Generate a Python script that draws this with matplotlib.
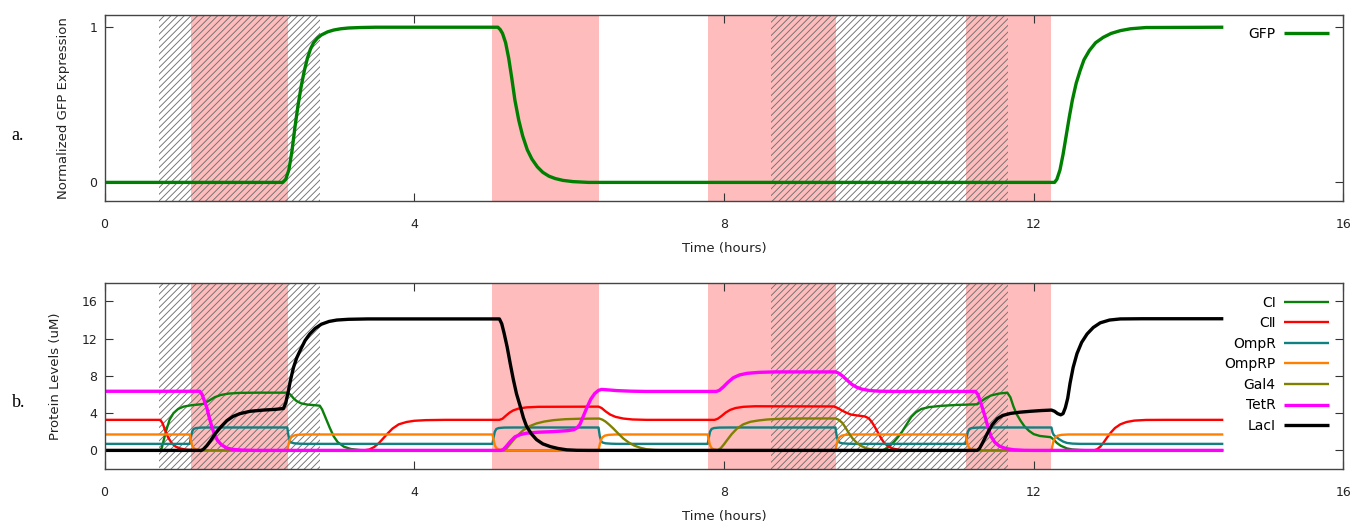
import matplotlib
matplotlib.use("Agg")
import matplotlib.pyplot as plt

plt.rcParams['font.family'] = ['DejaVu Sans']
plt.rcParams['hatch.linewidth'] = 0.65

# induction windows (hours)
pink_spans = [(1.12, 2.37), (5.0, 6.39), (7.79, 9.45), (11.12, 12.23)]
hatch_spans = [(0.70, 2.78), (8.61, 11.67)]

# (time in hours, value)
gfp = [(0, 0), (2.30, 0), (2.34, 0.02), (2.38, 0.08), (2.42, 0.2), (2.46, 0.36), (2.50, 0.5),
       (2.54, 0.62), (2.58, 0.72), (2.62, 0.8), (2.66, 0.86), (2.70, 0.9), (2.75, 0.93),
       (2.80, 0.95), (2.88, 0.97), (2.96, 0.982), (3.05, 0.99), (3.15, 0.995), (3.30, 0.998),
       (3.50, 1), (5.08, 1), (5.11, 0.985), (5.14, 0.96), (5.18, 0.9), (5.22, 0.8), (5.26, 0.67),
       (5.30, 0.53), (5.35, 0.4), (5.40, 0.3), (5.46, 0.21), (5.52, 0.15), (5.59, 0.1),
       (5.66, 0.065), (5.74, 0.04), (5.82, 0.025), (5.92, 0.013), (6.05, 0.005), (6.25, 0),
       (12.27, 0), (12.30, 0.02), (12.34, 0.08), (12.38, 0.18), (12.42, 0.3), (12.46, 0.42),
       (12.50, 0.53), (12.55, 0.64), (12.60, 0.72), (12.65, 0.79), (12.72, 0.85), (12.80, 0.9),
       (12.90, 0.935), (13.00, 0.96), (13.12, 0.978), (13.25, 0.99), (13.45, 0.998), (14.45, 1)]

ci = [(0, 0), (0.72, 0), (0.74, 0.3), (0.77, 1.3), (0.80, 2.25), (0.84, 3.3), (0.89, 4.0),
      (0.95, 4.45), (1.02, 4.7), (1.12, 4.85), (1.24, 4.95), (1.28, 5.0), (1.32, 5.2),
      (1.37, 5.45), (1.42, 5.7), (1.5, 5.95), (1.6, 6.1), (1.75, 6.18), (2.0, 6.2), (2.36, 6.2),
      (2.40, 6.0), (2.44, 5.6), (2.48, 5.3), (2.54, 5.05), (2.62, 4.92), (2.72, 4.85),
      (2.78, 4.8), (2.81, 4.4), (2.84, 3.8), (2.87, 3.2), (2.91, 2.4), (2.96, 1.5), (3.01, 0.9),
      (3.09, 0.4), (3.18, 0.15), (3.3, 0.03), (3.45, 0), (10.05, 0), (10.1, 0.2), (10.15, 0.55),
      (10.2, 0.95), (10.25, 1.45), (10.3, 2.0), (10.36, 2.8), (10.42, 3.6), (10.48, 4.1),
      (10.55, 4.45), (10.65, 4.65), (10.8, 4.78), (11.0, 4.88), (11.27, 4.95), (11.32, 5.25),
      (11.38, 5.6), (11.45, 5.9), (11.55, 6.1), (11.66, 6.2), (11.70, 5.7), (11.74, 4.7),
      (11.78, 3.9), (11.83, 3.2), (11.88, 2.6), (11.94, 2.1), (12.0, 1.75), (12.08, 1.55),
      (12.22, 1.42), (12.26, 1.15), (12.3, 0.8), (12.35, 0.5), (12.43, 0.21), (12.5, 0.1),
      (12.6, 0.04), (12.75, 0), (14.45, 0)]

cii = [(0, 3.28), (0.72, 3.28), (0.75, 2.9), (0.78, 2.2), (0.82, 1.4), (0.87, 0.75), (0.92, 0.4),
       (0.98, 0.2), (1.05, 0.08), (1.15, 0.02), (1.3, 0), (3.35, 0), (3.42, 0.1), (3.48, 0.35),
       (3.54, 0.75), (3.6, 1.3), (3.66, 1.85), (3.72, 2.35), (3.8, 2.8), (3.9, 3.05), (4.0, 3.18),
       (4.15, 3.25), (4.4, 3.28), (5.10, 3.28), (5.14, 3.4), (5.18, 3.7), (5.23, 4.05),
       (5.28, 4.3), (5.35, 4.5), (5.45, 4.62), (5.6, 4.68), (6.38, 4.7), (6.42, 4.55),
       (6.47, 4.2), (6.53, 3.85), (6.6, 3.6), (6.7, 3.42), (6.82, 3.32), (7.0, 3.28),
       (7.88, 3.28), (7.92, 3.4), (7.97, 3.7), (8.02, 4.05), (8.08, 4.35), (8.15, 4.55),
       (8.25, 4.68), (8.4, 4.74), (9.42, 4.72), (9.47, 4.55), (9.52, 4.3), (9.58, 4.05),
       (9.64, 3.85), (9.72, 3.75), (9.82, 3.65), (9.87, 3.45), (9.91, 3.05), (9.95, 2.5),
       (9.99, 1.9), (10.03, 1.3), (10.07, 0.8), (10.12, 0.45), (10.18, 0.2), (10.26, 0.06),
       (10.4, 0), (12.78, 0), (12.82, 0.12), (12.86, 0.4), (12.9, 0.8), (12.95, 1.4),
       (13.0, 1.95), (13.05, 2.4), (13.12, 2.8), (13.2, 3.05), (13.3, 3.2), (13.45, 3.27),
       (13.7, 3.28), (14.45, 3.28)]

ompr = [(0, 0.7), (1.10, 0.7), (1.115, 1.4), (1.13, 2.0), (1.15, 2.3), (1.18, 2.4), (1.25, 2.45),
        (1.4, 2.46), (2.36, 2.46), (2.375, 1.6), (2.39, 1.05), (2.41, 0.85), (2.45, 0.76),
        (2.52, 0.72), (2.6, 0.7), (5.01, 0.7), (5.025, 1.4), (5.04, 2.0), (5.06, 2.3),
        (5.09, 2.4), (5.16, 2.45), (5.3, 2.46), (6.38, 2.46), (6.395, 1.6), (6.41, 1.05),
        (6.43, 0.85), (6.47, 0.76), (6.54, 0.72), (6.62, 0.7), (7.79, 0.7), (7.805, 1.4),
        (7.82, 2.0), (7.84, 2.3), (7.87, 2.4), (7.94, 2.45), (8.08, 2.46), (9.44, 2.46),
        (9.455, 1.6), (9.47, 1.05), (9.49, 0.85), (9.53, 0.76), (9.6, 0.72), (9.68, 0.7),
        (11.12, 0.7), (11.135, 1.4), (11.15, 2.0), (11.17, 2.3), (11.2, 2.4), (11.27, 2.45),
        (11.41, 2.46), (12.23, 2.46), (12.245, 1.9), (12.26, 1.65), (12.29, 1.45), (12.33, 1.2),
        (12.38, 0.95), (12.43, 0.8), (12.5, 0.73), (12.6, 0.7), (14.45, 0.7)]

omprp = [(0, 1.71), (1.10, 1.71), (1.115, 1.1), (1.13, 0.55), (1.15, 0.25), (1.18, 0.1),
         (1.24, 0.03), (1.35, 0), (2.36, 0), (2.375, 0.6), (2.39, 1.1), (2.41, 1.4), (2.44, 1.58),
         (2.49, 1.67), (2.58, 1.71), (5.01, 1.71), (5.025, 1.1), (5.04, 0.55), (5.06, 0.25),
         (5.09, 0.1), (5.15, 0.03), (5.26, 0), (6.38, 0), (6.395, 0.6), (6.41, 1.1), (6.43, 1.4),
         (6.46, 1.58), (6.51, 1.67), (6.6, 1.71), (7.79, 1.71), (7.805, 1.1), (7.82, 0.55),
         (7.84, 0.25), (7.87, 0.1), (7.93, 0.03), (8.04, 0), (9.44, 0), (9.455, 0.6),
         (9.47, 1.1), (9.49, 1.4), (9.52, 1.58), (9.57, 1.67), (9.66, 1.71), (11.12, 1.71),
         (11.135, 1.1), (11.15, 0.55), (11.17, 0.25), (11.2, 0.1), (11.26, 0.03), (11.37, 0),
         (12.23, 0), (12.245, 0.6), (12.26, 1.1), (12.28, 1.4), (12.31, 1.58), (12.36, 1.67),
         (12.45, 1.71), (14.45, 1.71)]

gal4 = [(0, 0), (5.15, 0), (5.19, 0.2), (5.23, 0.6), (5.28, 1.1), (5.34, 1.65), (5.41, 2.18),
        (5.49, 2.6), (5.58, 2.9), (5.68, 3.1), (5.8, 3.25), (5.95, 3.35), (6.14, 3.4),
        (6.39, 3.42), (6.43, 3.3), (6.47, 3.1), (6.52, 2.75), (6.57, 2.36), (6.63, 1.85),
        (6.7, 1.28), (6.77, 0.85), (6.84, 0.52), (6.92, 0.28), (7.0, 0.12), (7.1, 0.04),
        (7.25, 0), (7.92, 0), (7.96, 0.25), (8.0, 0.65), (8.04, 1.1), (8.1, 1.75), (8.17, 2.36),
        (8.25, 2.8), (8.34, 3.07), (8.45, 3.22), (8.56, 3.32), (8.75, 3.4), (9.0, 3.43),
        (9.44, 3.43), (9.48, 3.3), (9.53, 2.95), (9.57, 2.45), (9.61, 1.9), (9.66, 1.3),
        (9.72, 0.78), (9.78, 0.45), (9.84, 0.22), (9.92, 0.08), (10.02, 0.02), (10.15, 0),
        (14.45, 0)]

tetr = [(0, 6.35), (1.23, 6.35), (1.26, 6.0), (1.29, 5.3), (1.32, 4.6), (1.35, 3.6),
        (1.385, 2.55), (1.42, 1.7), (1.46, 1.05), (1.51, 0.6), (1.58, 0.25), (1.66, 0.1),
        (1.78, 0.03), (1.95, 0), (5.12, 0), (5.15, 0.1), (5.19, 0.45), (5.24, 0.95), (5.3, 1.45),
        (5.37, 1.7), (5.45, 1.85), (5.6, 1.95), (5.8, 2.02), (5.98, 2.12), (6.06, 2.22),
        (6.1, 2.4), (6.14, 2.8), (6.18, 3.6), (6.23, 4.6), (6.28, 5.5), (6.33, 6.1), (6.38, 6.45),
        (6.42, 6.55), (6.5, 6.5), (6.62, 6.42), (6.8, 6.36), (7.0, 6.33), (7.9, 6.33),
        (7.94, 6.45), (7.99, 6.8), (8.05, 7.3), (8.12, 7.8), (8.2, 8.1), (8.3, 8.28),
        (8.45, 8.38), (8.65, 8.43), (9.44, 8.43), (9.48, 8.3), (9.53, 8.0), (9.59, 7.55),
        (9.65, 7.1), (9.71, 6.8), (9.78, 6.58), (9.88, 6.43), (10.0, 6.36), (10.2, 6.33),
        (11.25, 6.33), (11.28, 6.0), (11.31, 5.3), (11.34, 4.5), (11.37, 3.7), (11.41, 2.5),
        (11.45, 1.5), (11.5, 0.85), (11.56, 0.45), (11.64, 0.2), (11.74, 0.07), (11.88, 0.01),
        (12.0, 0), (14.45, 0)]

laci = [(0, 0), (1.25, 0), (1.28, 0.15), (1.32, 0.5), (1.37, 1.05), (1.43, 1.8), (1.5, 2.5),
        (1.58, 3.2), (1.66, 3.65), (1.75, 3.95), (1.88, 4.2), (2.05, 4.33), (2.2, 4.4),
        (2.31, 4.5), (2.34, 5.1), (2.37, 6.2), (2.40, 7.5), (2.44, 8.9), (2.48, 9.9),
        (2.53, 10.8), (2.59, 11.8), (2.65, 12.5), (2.72, 13.1), (2.8, 13.55), (2.9, 13.85),
        (3.0, 14.0), (3.15, 14.08), (3.4, 14.12), (5.1, 14.12), (5.13, 13.6), (5.16, 12.6),
        (5.2, 11.1), (5.24, 9.3), (5.28, 7.6), (5.32, 6.1), (5.37, 4.7), (5.41, 3.5),
        (5.45, 2.6), (5.51, 1.8), (5.58, 1.15), (5.66, 0.7), (5.76, 0.4), (5.86, 0.2),
        (5.97, 0.06), (6.1, 0.01), (6.25, 0), (11.27, 0), (11.3, 0.2), (11.34, 0.8), (11.4, 1.8),
        (11.46, 2.7), (11.53, 3.4), (11.6, 3.75), (11.7, 3.97), (11.82, 4.1), (11.96, 4.2),
        (12.1, 4.28), (12.23, 4.33), (12.27, 4.2), (12.31, 3.95), (12.35, 3.82), (12.38, 3.95),
        (12.41, 4.6), (12.44, 5.6), (12.47, 7.2), (12.51, 8.9), (12.56, 10.4), (12.62, 11.6),
        (12.69, 12.5), (12.77, 13.2), (12.86, 13.7), (12.98, 14.0), (13.12, 14.12),
        (13.4, 14.14), (14.45, 14.14)]

proteins = [
    ("C\u2160", ci, "#0a800a", 1.7),
    ("C\u2161", cii, "#ff0000", 1.7),
    ("OmpR", ompr, "#108080", 1.7),
    ("OmpRP", omprp, "#ff8000", 1.7),
    ("Gal4", gal4, "#808000", 1.7),
    ("TetR", tetr, "#ff00ff", 2.4),
    ("Lac\u2160", laci, "#000000", 2.4),
]


def shade(ax):
    for a, b in pink_spans:
        ax.axvspan(a, b, facecolor="#ffbcbc", edgecolor="none", lw=0, zorder=0)
    for a, b in hatch_spans:
        ax.axvspan(a, b, facecolor="none", edgecolor="#707070", hatch="/////", lw=0, zorder=0.5)


def style(ax):
    ax.set_xlim(0, 16)
    ax.set_xticks([0, 4, 8, 12, 16])
    ax.tick_params(direction="in", top=True, right=True, length=6, width=0.8,
                   color="#333333", labelcolor="#222222", labelsize=9)
    ax.tick_params(axis="x", pad=12)
    ax.tick_params(axis="y", pad=5)
    for s in ax.spines.values():
        s.set_color("#444444")
        s.set_linewidth(1.0)
    ax.set_xlabel("Time (hours)", fontsize=9.5, color="#222222", labelpad=8)


fig = plt.figure(figsize=(13.58, 5.29), dpi=100)
ax1 = fig.add_axes([0.077, 0.620, 0.9122, 0.352])
ax2 = fig.add_axes([0.077, 0.1134, 0.9122, 0.352])

# a. GFP
shade(ax1)
t, v = zip(*gfp)
ax1.plot(t, v, color="#008000", lw=2.4, label="GFP", solid_capstyle="butt")
ax1.set_ylim(-0.12, 1.08)
ax1.set_yticks([0, 1])
style(ax1)
ax1.set_ylabel("Normalized GFP Expression", fontsize=9.5, color="#222222")
ax1.yaxis.set_label_coords(-0.028, 0.5)
ax1.legend(loc="upper right", frameon=False, markerfirst=False, fontsize=10,
           handlelength=3.2, handletextpad=0.6, borderaxespad=0.4, bbox_to_anchor=(0.997, 0.995))

# b. protein levels
shade(ax2)
for name, pts, col, lw in proteins:
    t, v = zip(*pts)
    ax2.plot(t, v, color=col, lw=lw, label=name, solid_capstyle="butt")
ax2.set_ylim(-2, 18)
ax2.set_yticks([0, 4, 8, 12, 16])
style(ax2)
ax2.set_ylabel("Protein Levels (uM)", fontsize=9.5, color="#222222")
ax2.yaxis.set_label_coords(-0.0345, 0.5)
ax2.legend(loc="upper right", frameon=False, markerfirst=False, fontsize=10,
           handlelength=3.2, handletextpad=0.6, labelspacing=0.47, borderaxespad=0.4,
           bbox_to_anchor=(0.997, 0.99))

fig.text(11.5 / 1358, 1 - 140 / 529, "a.", family="Liberation Serif", fontsize=13, va="baseline")
fig.text(11.5 / 1358, 1 - 407 / 529, "b.", family="Liberation Serif", fontsize=13, va="baseline")

fig.savefig("out.png", dpi=100)
